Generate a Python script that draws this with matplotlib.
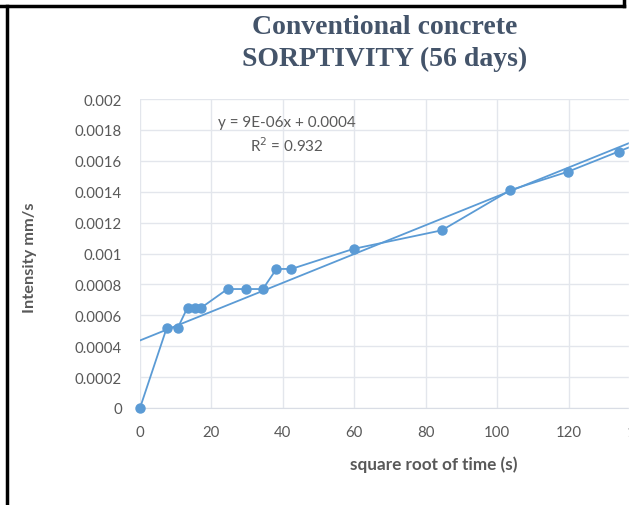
import matplotlib
matplotlib.use('Agg')
import matplotlib.pyplot as plt
from matplotlib.lines import Line2D
from matplotlib.patches import Rectangle
from matplotlib.ticker import FuncFormatter, MultipleLocator
import numpy as np

# sorptivity readings (56 days)
sqrt_time = [0, 7.5, 10.6, 13.3, 15.3, 17.2, 24.5, 29.6, 34.4, 38.2, 42.4, 59.8, 84.5, 103.7, 119.9, 134.0, 146.0]
intensity = [0.0, 0.00052, 0.00052, 0.00065, 0.00065, 0.00065, 0.00077, 0.00077, 0.00077,
             0.0009, 0.0009, 0.00103, 0.00115, 0.00141, 0.00153, 0.00166, 0.00177]
x_ticks = [0, 20, 40, 60, 80, 100, 120, 140]

blue = '#5B9BD5'
grey_txt = '#595959'
W, H = 641, 506
AX_L, AX_W, AX_B, AX_H = 140, 500, 409, 309

fig = plt.figure(figsize=(W / 100, H / 100), dpi=100)
ax = fig.add_axes([AX_L / W, (H - AX_B) / H, AX_W / W, AX_H / H])

# trendline from the data
k, b = np.polyfit(sqrt_time, intensity, 1)
xt = np.array([0, 140])
ax.plot(xt, k * xt + b, color=blue, lw=1.3, zorder=2)
ax.plot(sqrt_time, intensity, color=blue, lw=1.3, marker='o', ms=6.5, zorder=3,
        clip_on=False)

ax.set_xlim(0, 140)
ax.set_ylim(0, 0.002)
ax.set_xticks(x_ticks)
ax.yaxis.set_major_locator(MultipleLocator(0.0002))
ax.yaxis.set_major_formatter(FuncFormatter(lambda v, p: '%g' % round(v, 5)))
ax.grid(True, color='#E3E6EC', lw=1)
ax.set_axisbelow(True)
for s in ['top', 'right', 'left']:
    ax.spines[s].set_visible(False)
ax.spines['bottom'].set_color('#D9DDE5')
ax.tick_params(length=0, colors=grey_txt, labelsize=10.8)
ax.tick_params(axis='y', pad=13)
ax.tick_params(axis='x', pad=12)
for lbl in ax.get_xticklabels() + ax.get_yticklabels():
    lbl.set_fontfamily('Lato')

ax.set_xlabel('square root of time (s)', fontsize=12.3, fontweight='bold', color=grey_txt,
              family='Lato')
ax.xaxis.set_label_coords((434 - AX_L) / AX_W, (AX_B - 465) / AX_H)
ax.xaxis.label.set_va('center')
ax.set_ylabel('Intensity mm/s', fontsize=11.8, fontweight='bold', color=grey_txt,
              family='Lato')
ax.yaxis.set_label_coords((30 - AX_L) / AX_W, (AX_B - 258) / AX_H)
ax.yaxis.label.set_va('center')

ax.text(41, 0.00177, 'y = 9E-06x + 0.0004\nR$^2$ = 0.932', fontsize=11, color=grey_txt,
        family='Lato', ha='center', va='center', linespacing=1.35)

fig.text(385 / W, 1 - 27 / H, 'Conventional concrete', family='Liberation Serif',
         fontweight='bold', fontsize=20, color='#44546A', ha='center', va='center')
fig.text(385 / W, 1 - 59 / H, 'SORPTIVITY (56 days)', family='Liberation Serif',
         fontweight='bold', fontsize=20, color='#44546A', ha='center', va='center')

# screenshot crop on the right
fig.add_artist(Rectangle((629 / W, 0), 12 / W, 1 - 8 / H, transform=fig.transFigure,
                         color='white', zorder=10))
# black frame bits from the screenshot
fig.add_artist(Line2D([0, 624 / W], [1 - 7 / H, 1 - 7 / H], color='black', lw=2.5,
                      transform=fig.transFigure, zorder=11))
fig.add_artist(Line2D([624 / W, 624 / W], [1 - 7 / H, 1], color='black', lw=2.5,
                      transform=fig.transFigure, zorder=11))
fig.add_artist(Line2D([6.5 / W, 6.5 / W], [0, 1 - 7 / H], color='black', lw=2.5,
                      transform=fig.transFigure, zorder=11))

fig.savefig('out.png', dpi=100)
